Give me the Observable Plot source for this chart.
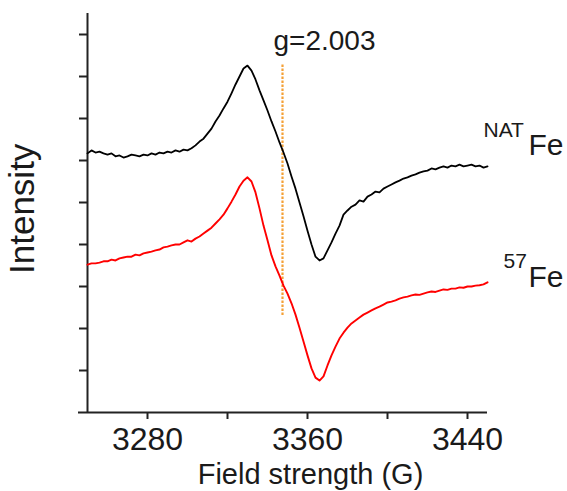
<!DOCTYPE html>
<html>
<head>
<meta charset="utf-8">
<script src="https://cdn.jsdelivr.net/npm/d3@7"></script>
<script src="https://cdn.jsdelivr.net/npm/@observablehq/plot@0.6"></script>
<style>
  html, body { margin: 0; padding: 0; background: #fff; }
  #chart { width: 567px; height: 491px; }
</style>
</head>
<body>
<div id="chart"></div>
<script>
// Magnetic field (G)
const field = [3250,3252,3254,3256,3258,3260,3262,3264,3266,3268,3270,3272,3274,3276,3278,3280,3282,3284,3286,3288,3290,3292,3294,3296,3298,3300,3302,3304,3306,3308,3310,3312,3314,3316,3318,3320,3322,3324,3326,3328,3330,3332,3334,3336,3338,3340,3342,3344,3346,3348,3350,3352,3354,3356,3358,3360,3362,3364,3366,3368,3370,3372,3374,3376,3378,3380,3382,3384,3386,3388,3390,3392,3394,3396,3398,3400,3402,3404,3406,3408,3410,3412,3414,3416,3418,3420,3422,3424,3426,3428,3430,3432,3434,3436,3438,3440,3442,3444,3446,3448,3450];

// NAT Fe spectrum (arbitrary units, offset)
const natFe = [6.17,6.24,6.19,6.21,6.17,6.14,6.17,6.10,6.12,6.07,6.10,6.14,6.12,6.10,6.14,6.12,6.17,6.14,6.19,6.17,6.21,6.19,6.24,6.21,6.26,6.24,6.29,6.36,6.45,6.52,6.64,6.76,6.93,7.07,7.24,7.40,7.60,7.81,8.00,8.19,8.26,8.14,7.93,7.67,7.43,7.19,6.93,6.69,6.43,6.19,5.93,5.62,5.33,5.00,4.67,4.33,4.00,3.71,3.62,3.67,3.86,4.05,4.26,4.45,4.71,4.81,4.90,4.95,5.05,5.02,5.14,5.19,5.26,5.24,5.33,5.38,5.43,5.48,5.52,5.57,5.60,5.64,5.67,5.71,5.74,5.76,5.81,5.79,5.83,5.86,5.83,5.88,5.86,5.90,5.86,5.88,5.90,5.86,5.88,5.83,5.86];

// 57Fe spectrum (arbitrary units, offset)
const fe57 = [3.52,3.55,3.55,3.57,3.60,3.60,3.64,3.62,3.67,3.69,3.71,3.71,3.76,3.74,3.79,3.81,3.83,3.86,3.88,3.93,3.95,3.98,4.00,4.00,4.05,4.10,4.07,4.14,4.19,4.26,4.33,4.40,4.50,4.60,4.71,4.86,5.02,5.19,5.38,5.52,5.60,5.50,5.24,4.86,4.45,4.10,3.74,3.48,3.26,3.02,2.83,2.60,2.33,2.02,1.69,1.36,1.05,0.83,0.76,0.86,1.12,1.36,1.57,1.76,1.90,2.02,2.12,2.19,2.26,2.33,2.38,2.43,2.48,2.52,2.57,2.62,2.64,2.67,2.71,2.74,2.76,2.79,2.81,2.80,2.83,2.86,2.88,2.87,2.90,2.93,2.92,2.95,2.95,2.98,2.97,3.00,3.00,3.02,3.03,3.05,3.10];

const xTicks = [3280, 3320, 3360, 3400, 3440];
const xTickLabels = [3280, 3360, 3440];
const yTicks = [1, 2, 3, 4, 5, 6, 7, 8, 9];
const gField = [3347.5];
const gLabel = "g=2.003";
const xLabel = "Field strength (G)";
const yLabel = "Intensity";

const natData = field.map((x, i) => ({x, y: natFe[i]}));
const fe57Data = field.map((x, i) => ({x, y: fe57[i]}));

const ink = "#1a1a1a";
const font = "'Liberation Sans', Arial, Helvetica, sans-serif";

const chart = Plot.plot({
  width: 567,
  height: 491,
  marginLeft: 78,
  marginRight: 80,
  marginTop: 13,
  marginBottom: 79,
  x: {domain: [3245.5, 3450]},
  y: {domain: [0, 9.5]},
  style: {fontFamily: font, color: ink, background: "#fff", overflow: "visible"},
  marks: [
    Plot.ruleY([0], {stroke: "#222", strokeWidth: 2}),
    Plot.ruleX([field[0]], {stroke: "#222", strokeWidth: 2}),
    Plot.axisX({
      ticks: xTicks, tickSize: 7, tickPadding: 8, stroke: "#222", strokeWidth: 2,
      tickFormat: d => xTickLabels.includes(d) ? String(d) : "",
      fontSize: 32, fill: ink, label: null
    }),
    Plot.axisY({
      ticks: yTicks, tickSize: 8, stroke: "#222", strokeWidth: 2,
      tickFormat: () => "", label: null, dx: 9
    }),
    Plot.ruleX(gField, {y1: 2.31, y2: 8.31, stroke: "#f4a036", strokeWidth: 2.2, strokeDasharray: "2.5,1.5"}),
    Plot.line(natData, {x: "x", y: "y", stroke: "#000", strokeWidth: 1.8}),
    Plot.line(fe57Data, {x: "x", y: "y", stroke: "#ff0000", strokeWidth: 1.9}),
    Plot.text([gLabel], {x: 3343, y: 8.64, text: d => d, textAnchor: "start", lineAnchor: "bottom", fontSize: 28, fill: ink}),
    Plot.text([xLabel], {x: 3361.5, frameAnchor: "bottom", dy: 71, text: d => d, textAnchor: "middle", lineAnchor: "bottom", fontSize: 29, fill: ink}),
    Plot.text([yLabel], {frameAnchor: "left", y: 4.85, dx: -56, rotate: -90, text: d => d, textAnchor: "middle", lineAnchor: "middle", fontSize: 35, fill: ink}),
    Plot.text(["NAT"], {x: 3448, y: 6.55, text: d => d, textAnchor: "start", lineAnchor: "bottom", fontSize: 21, fill: ink}),
    Plot.text(["Fe"], {x: 3470.5, y: 6.12, text: d => d, textAnchor: "start", lineAnchor: "bottom", fontSize: 30, fill: ink}),
    Plot.text(["57"], {x: 3458, y: 3.45, text: d => d, textAnchor: "start", lineAnchor: "bottom", fontSize: 21, fill: ink}),
    Plot.text(["Fe"], {x: 3470.5, y: 2.98, text: d => d, textAnchor: "start", lineAnchor: "bottom", fontSize: 30, fill: ink})
  ]
});
document.getElementById("chart").appendChild(chart);
</script>
</body>
</html>
